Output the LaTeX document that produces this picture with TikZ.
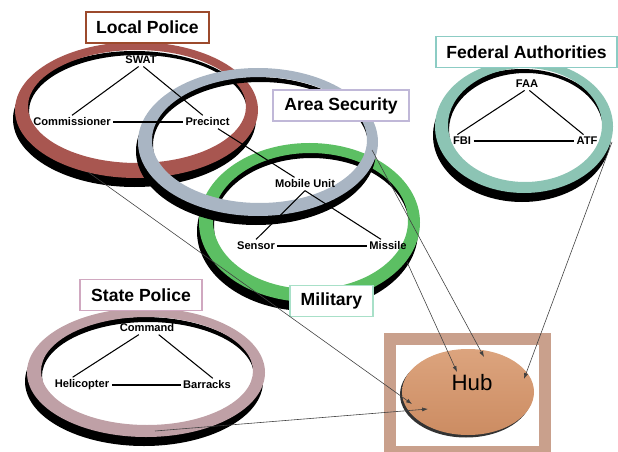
\documentclass[tikz,border=0pt]{standalone}
\usepackage{fontspec}
\setmainfont{Liberation Sans}
\usetikzlibrary{arrows.meta,calc,shadings,shapes.geometric}

\definecolor{lpring}{HTML}{A85650}
\definecolor{asring}{HTML}{A9B5C3}
\definecolor{milring}{HTML}{5CBF63}
\definecolor{faring}{HTML}{8CC4B4}
\definecolor{spring}{HTML}{BFA0A6}
\definecolor{lpedge}{HTML}{9C4A2C}
\definecolor{asedge}{HTML}{C0B8D8}
\definecolor{faedge}{HTML}{8CCCC4}
\definecolor{spedge}{HTML}{D0A8C0}
\definecolor{miledge}{HTML}{A8E0C8}
\definecolor{hubframe}{HTML}{C9A08C}
\definecolor{hubtop}{HTML}{DCA47E}
\definecolor{hubbottom}{HTML}{CC8C62}

\tikzset{
  ringwall/.style={fill=black, even odd rule},
  grouplabel/.style={draw, fill=white, line width=1.2pt, minimum height=0.94cm,
    inner sep=2pt, font=\bfseries\fontsize{15}{17}\selectfont},
  member/.style={inner sep=2pt, font=\bfseries\fontsize{9.5}{11}\selectfont},
  tie/.style={line width=0.9pt},
  feed/.style={draw=black!75, line width=0.5pt, -{Latex[length=5pt,width=3.5pt]}},
}

\begin{document}
\begin{tikzpicture}[x=0.03cm,y=-0.03cm]
\useasboundingbox (0,0) rectangle (618,452);
% rings, back to front: black wall first, then the coloured band
\fill [ringwall] (134.5,119) ellipse (121.5 and 68) (138,111.5) ellipse (109 and 56.5);
\fill [lpring,even odd rule] (136.5,110) ellipse (121.5 and 68) (137,106.5) ellipse (109 and 56.5);
\fill [ringwall] (307.5,231.5) ellipse (110.5 and 79.5) (311.5,226) ellipse (97.5 and 68);
\fill [milring,even odd rule] (309.5,222.5) ellipse (110.5 and 79.5) (310.5,221) ellipse (97.5 and 68);
\fill [ringwall] (256,151) ellipse (120 and 74) (260.5,145) ellipse (107.5 and 63);
\fill [asring,even odd rule] (258,142) ellipse (120 and 74) (259.5,140) ellipse (107.5 and 63);
\fill [ringwall] (522,135.5) ellipse (89 and 66.5) (526,130) ellipse (77 and 57);
\fill [faring,even odd rule] (524,126.5) ellipse (89 and 66.5) (525,125) ellipse (77 and 57);
\fill [ringwall] (144,381.5) ellipse (119 and 64.5) (148,376) ellipse (106 and 54);
\fill [spring,even odd rule] (146,372.5) ellipse (119 and 64.5) (147,371) ellipse (106 and 54);
% hub
\draw [line width=9.5pt,draw=hubframe] (390,339) rectangle (545,452);
\fill [black!80] (466,394.5) ellipse (66 and 43);
\node [ellipse,minimum width=3.96cm,minimum height=2.58cm,inner sep=0pt,
  top color=hubtop,bottom color=hubbottom] (Hub) at (468,392) {};
\node [font=\fontsize{19}{21}\selectfont] (hubtext) at (472,383) {Hub};
% group labels
\node [grouplabel,draw=lpedge,minimum width=3.69cm] (lp) at (147.5,27.5) {Local Police};
\node [grouplabel,draw=asedge,minimum width=4.08cm] (as) at (341,105.5) {Area Security};
\node [grouplabel,draw=faedge,minimum width=5.43cm] (fa) at (526.5,52) {Federal Authorities};
\node [grouplabel,draw=spedge,minimum width=3.66cm] (sp) at (141,295) {State Police};
\node [grouplabel,draw=miledge,minimum width=2.49cm] (mil) at (331.5,301) {Military};
% members
\node [member] (SWAT) at (141,60) {SWAT};
\node [member] (Commissioner) at (72,122) {Commissioner};
\node [member] (Precinct) at (207.5,122) {Precinct};
\node [member] (MobileUnit) at (305,184) {Mobile Unit};
\node [member] (Sensor) at (256,246) {Sensor};
\node [member] (Missile) at (388,246) {Missile};
\node [member] (FAA) at (527,84) {FAA};
\node [member] (FBI) at (462,141) {FBI};
\node [member] (ATF) at (587,141) {ATF};
\node [member] (Command) at (147,328) {Command};
\node [member] (Helicopter) at (82,385) {Helicopter};
\node [member] (Barracks) at (207,385) {Barracks};
\draw [tie] ([xshift=-2pt]SWAT.south) -- (Commissioner.north);
\draw [tie] ([xshift=2pt]SWAT.south) -- ([xshift=-4pt]Precinct.north);
\draw [tie] (Commissioner) -- (Precinct);
\draw [tie] (Precinct) -- (MobileUnit);
\draw [tie] (MobileUnit.south) -- (Sensor.north);
\draw [tie] (MobileUnit.south) -- ([xshift=-6pt]Missile.north);
\draw [tie] (Sensor) -- (Missile);
\draw [tie] ([xshift=-2pt]FAA.south) -- ([xshift=-4pt]FBI.north);
\draw [tie] ([xshift=2pt]FAA.south) -- ([xshift=-3pt]ATF.north);
\draw [tie] (FBI) -- (ATF);
\draw [tie] ([xshift=-7pt]Command.south) -- ([xshift=-8pt]Helicopter.north);
\draw [tie] ([xshift=10pt]Command.south) -- ([xshift=5pt]Barracks.north);
\draw [tie] (Helicopter) -- (Barracks);
% feeds into the hub
\coordinate (lpout) at (88,172);
\coordinate (spout) at (155,431);
\coordinate (asout) at (372,150);
\coordinate (milout) at (407,262);
\coordinate (faout) at (612,142);
\coordinate (hubA) at (412,404);
\coordinate (hubB) at (428,409);
\coordinate (hubC) at (484,357);
\coordinate (hubD) at (457,372);
\coordinate (hubE) at (524,379);
\draw [feed] (lpout) -- (hubA);
\draw [feed] (spout) -- (hubB);
\draw [feed] (asout) -- (hubC);
\draw [feed] (milout) -- (hubD);
\draw [feed] (faout) -- (hubE);
\end{tikzpicture}
\end{document}
